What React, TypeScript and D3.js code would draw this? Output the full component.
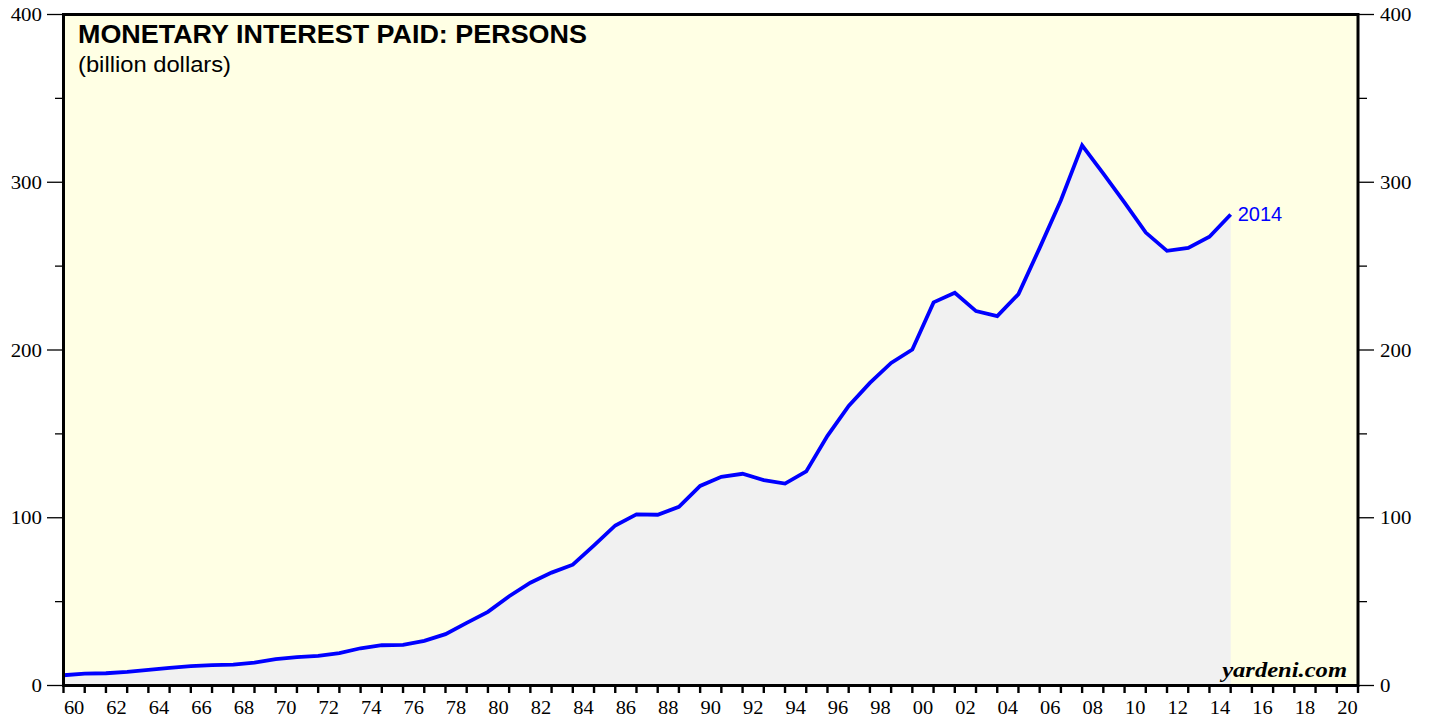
import * as d3 from "d3";

// annual data, plotted at year end
const years = d3.range(1959, 2015);
const interestPaid = [
  6.1, 7.1, 7.3, 8.1, 9.3, 10.5, 11.5, 12.1, 12.5, 13.7,
  15.7, 16.9, 17.7, 19.3, 22.2, 24.0, 24.2, 26.6, 30.6, 37.3,
  43.9, 53.2, 61.3, 67.3, 72.0, 83.5, 95.4, 102.0, 101.8, 106.5,
  119.0, 124.4, 126.2, 122.4, 120.4, 127.6, 148.8, 166.7, 180.4, 192.3,
  200.3, 228.4, 234.1, 223.2, 220.2, 233.3, 260.9, 289.3, 322.0, 305.2,
  287.9, 270.0, 259.1, 260.9, 267.5, 280.8,
];
const yTicks = [0, 100, 200, 300, 400];
const yMinorTicks = [50, 150, 250, 350];
const xLabelYears = d3.range(1960, 2021, 2);
const xTickYears = d3.range(1960, 2022);

const W = 1431;
const H = 717;
const left = 63.5;
const right = 1358;
const top = 14.5;
const bottom = 685.5;

const serif = "'Liberation Serif', 'Times New Roman', serif";
const sans = "'Liberation Sans', Arial, Helvetica, sans-serif";

export default function App() {
  const x = d3.scaleLinear().domain([1960, 2021]).range([left, right]);
  const y = d3.scaleLinear().domain([0, 400]).range([bottom, top]);

  const data = years.map((yr, i) => ({ year: yr, value: interestPaid[i] }));

  const line = d3
    .line<{ year: number; value: number }>()
    .x((d) => x(d.year + 1))
    .y((d) => y(d.value));
  const area = d3
    .area<{ year: number; value: number }>()
    .x((d) => x(d.year + 1))
    .y0(y(0))
    .y1((d) => y(d.value));

  const last = data[data.length - 1];

  return (
    <div style={{ position: "absolute", left: 0, top: 0 }}>
      <svg width={W} height={H} style={{ display: "block", background: "#fff" }}>
        <rect x={left} y={top} width={right - left} height={bottom - top} fill="#FFFFE4" />
        <path d={area(data) || ""} fill="#F1F1F1" />
        <path
          d={line(data) || ""}
          fill="none"
          stroke="#0000FF"
          strokeWidth={3.8}
          strokeLinejoin="miter"
        />

        {/* frame */}
        <rect
          x={left}
          y={top}
          width={right - left}
          height={bottom - top}
          fill="none"
          stroke="#000"
          strokeWidth={3}
        />

        {/* y axis ticks, both sides */}
        {yTicks.map((t) => (
          <g key={"y" + t}>
            <line x1={47} x2={left} y1={y(t)} y2={y(t)} stroke="#000" strokeWidth={1.3} />
            <line x1={right} x2={1374} y1={y(t)} y2={y(t)} stroke="#000" strokeWidth={1.3} />
            <text
              transform={`translate(42,${y(t) + 6.5}) scale(1.1,1)`}
              textAnchor="end"
              fontFamily={serif}
              fontSize={19}
              fill="#000"
            >
              {t}
            </text>
            <text
              transform={`translate(1380,${y(t) + 6.5}) scale(1.1,1)`}
              textAnchor="start"
              fontFamily={serif}
              fontSize={19}
              fill="#000"
            >
              {t}
            </text>
          </g>
        ))}
        {yMinorTicks.map((t) => (
          <g key={"ym" + t}>
            <line x1={55} x2={left} y1={y(t)} y2={y(t)} stroke="#000" strokeWidth={1.3} />
            <line x1={right} x2={1367} y1={y(t)} y2={y(t)} stroke="#000" strokeWidth={1.3} />
          </g>
        ))}

        {/* x axis ticks at year boundaries */}
        {xTickYears.map((yr) => (
          <line
            key={"xt" + yr}
            x1={x(yr)}
            x2={x(yr)}
            y1={bottom}
            y2={693}
            stroke="#000"
            strokeWidth={2.4}
          />
        ))}
        {xLabelYears.map((yr) => (
          <text
            key={"xl" + yr}
            transform={`translate(${x(yr + 0.5)},714) scale(1.05,1)`}
            textAnchor="middle"
            fontFamily={serif}
            fontSize={19.5}
            fill="#000"
          >
            {String(yr % 100).padStart(2, "0")}
          </text>
        ))}

        {/* titles */}
        <text
          transform="translate(78,43) scale(1.016,1)"
          fontFamily={sans}
          fontWeight="bold"
          fontSize={26.5}
          fill="#000"
        >
          MONETARY INTEREST PAID: PERSONS
        </text>
        <text
          transform="translate(78,72) scale(1.08,1)"
          fontFamily={sans}
          fontSize={22}
          fill="#000"
        >
          (billion dollars)
        </text>

        {/* end label */}
        <text
          x={x(last.year + 1) + 7}
          y={y(last.value) + 7}
          fontFamily={sans}
          fontSize={20}
          fill="#0000FF"
        >
          {last.year}
        </text>

        <text
          transform="translate(1347,677) scale(1.17,1)"
          textAnchor="end"
          fontFamily={serif}
          fontWeight="bold"
          fontStyle="italic"
          fontSize={21}
          fill="#000"
        >
          yardeni.com
        </text>
      </svg>
    </div>
  );
}
